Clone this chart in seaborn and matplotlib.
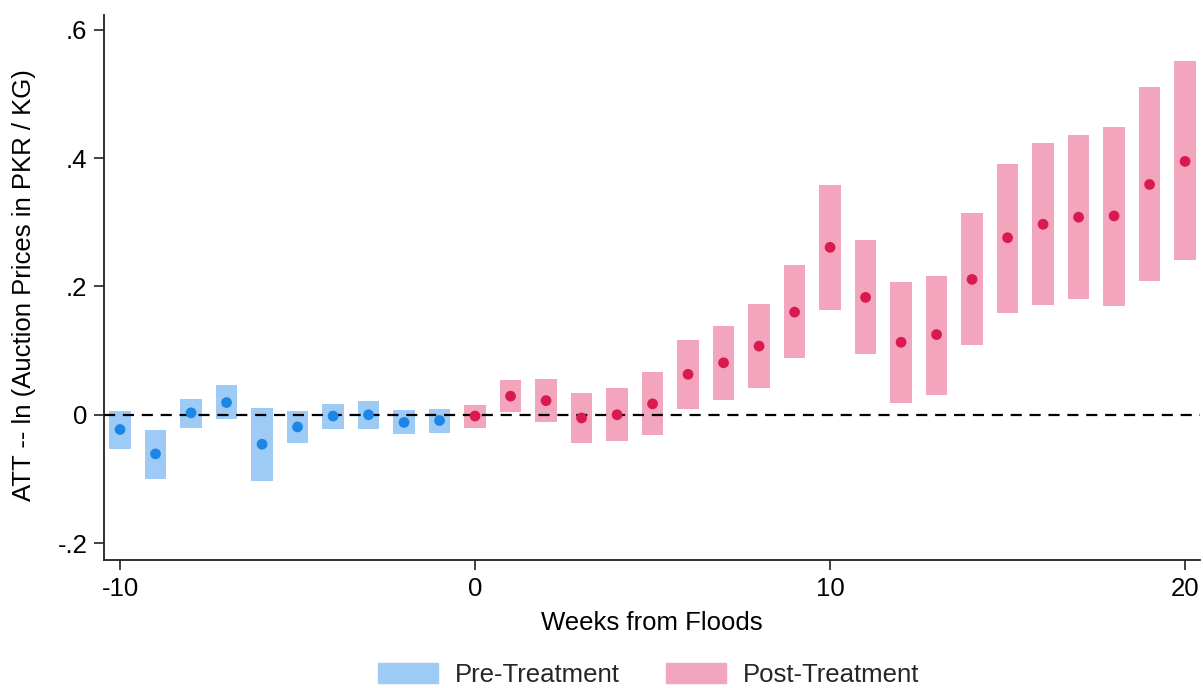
import numpy as np
import pandas as pd
import matplotlib
matplotlib.use("Agg")
import matplotlib.pyplot as plt
import matplotlib.patches as mpatches
import seaborn as sns

# Event-study estimates: week relative to floods, point estimate and 95% CI
weeks = list(range(-10, 21))
att = [-0.023, -0.061, 0.003, 0.019, -0.046, -0.019, -0.002, 0.000, -0.012, -0.009,
       -0.002, 0.029, 0.022, -0.005, 0.000, 0.017, 0.063, 0.081, 0.107, 0.160,
       0.261, 0.183, 0.113, 0.125, 0.211, 0.276, 0.297, 0.308, 0.310, 0.359, 0.395]
ci_low = [-0.053, -0.100, -0.020, -0.006, -0.104, -0.044, -0.022, -0.022, -0.030, -0.028,
          -0.020, 0.005, -0.012, -0.044, -0.041, -0.031, 0.009, 0.023, 0.041, 0.088,
          0.163, 0.095, 0.019, 0.031, 0.108, 0.159, 0.171, 0.180, 0.170, 0.208, 0.241]
ci_high = [0.006, -0.023, 0.025, 0.046, 0.011, 0.006, 0.017, 0.022, 0.008, 0.009,
           0.015, 0.054, 0.055, 0.034, 0.042, 0.066, 0.117, 0.138, 0.173, 0.234,
           0.358, 0.272, 0.207, 0.217, 0.314, 0.391, 0.423, 0.436, 0.449, 0.511, 0.551]
phases = ["Pre-Treatment", "Post-Treatment"]
y_ticks = [-0.2, 0.0, 0.2, 0.4, 0.6]
y_tick_labels = ["-.2", "0", ".2", ".4", ".6"]
x_ticks = [-10, 0, 10, 20]

df = pd.DataFrame({"week": weeks, "att": att, "lo": ci_low, "hi": ci_high})
df["phase"] = np.where(df["week"] < 0, phases[0], phases[1])

box_colors = {phases[0]: "#9ecbf6", phases[1]: "#f3a5bd"}
dot_colors = {phases[0]: "#1b86e6", phases[1]: "#d91a4f"}

sns.set_theme(style="white")
plt.rcParams["font.family"] = ["Liberation Sans", "DejaVu Sans"]
FS = 18.5

fig = plt.figure(figsize=(12.03, 6.88), dpi=100)
ax = fig.add_axes([0.0865, 0.186, 0.911, 0.792])

# Confidence intervals as shaded bars
for ph in phases:
    sub = df[df["phase"] == ph]
    ax.bar(sub["week"], sub["hi"] - sub["lo"], bottom=sub["lo"], width=0.6,
           color=box_colors[ph], linewidth=0, zorder=2)

# Zero reference line
ax.axhline(0, color="black", lw=1.6, ls=(0, (5, 3.5)), zorder=3)

# Point estimates
sns.scatterplot(data=df, x="week", y="att", hue="phase", palette=dot_colors,
                s=60, edgecolor="none", legend=False, ax=ax, zorder=4)

ax.set_xlim(-10.45, 20.42)
ax.set_ylim(-0.2265, 0.623)
ax.set_xticks(x_ticks)
ax.set_xticklabels([str(t) for t in x_ticks])
ax.set_yticks(y_ticks)
ax.set_yticklabels(y_tick_labels)
ax.tick_params(axis="both", which="both", direction="out", length=7, width=1.2,
               color="#222222", labelsize=FS, labelcolor="black", pad=5,
               bottom=True, left=True)

sns.despine(ax=ax, top=True, right=True)
for side in ["left", "bottom"]:
    ax.spines[side].set_color("#222222")
    ax.spines[side].set_linewidth(1.3)

ax.set_xlabel("Weeks from Floods", fontsize=FS, color="black")
ax.set_ylabel("ATT -- ln (Auction Prices in PKR / KG)", fontsize=FS, color="black")
ax.xaxis.set_label_coords(0.5, -0.093)
ax.yaxis.set_label_coords(-0.062, 0.505)

handles = [mpatches.Patch(color=box_colors[p], label=p) for p in phases]
fig.legend(handles=handles, loc="center", bbox_to_anchor=(0.539, 0.019), ncol=2,
           frameon=False, fontsize=FS, handlelength=2.35, handleheight=0.8,
           handletextpad=0.65, columnspacing=1.8)

fig.savefig("out.png", dpi=100, facecolor="white")
